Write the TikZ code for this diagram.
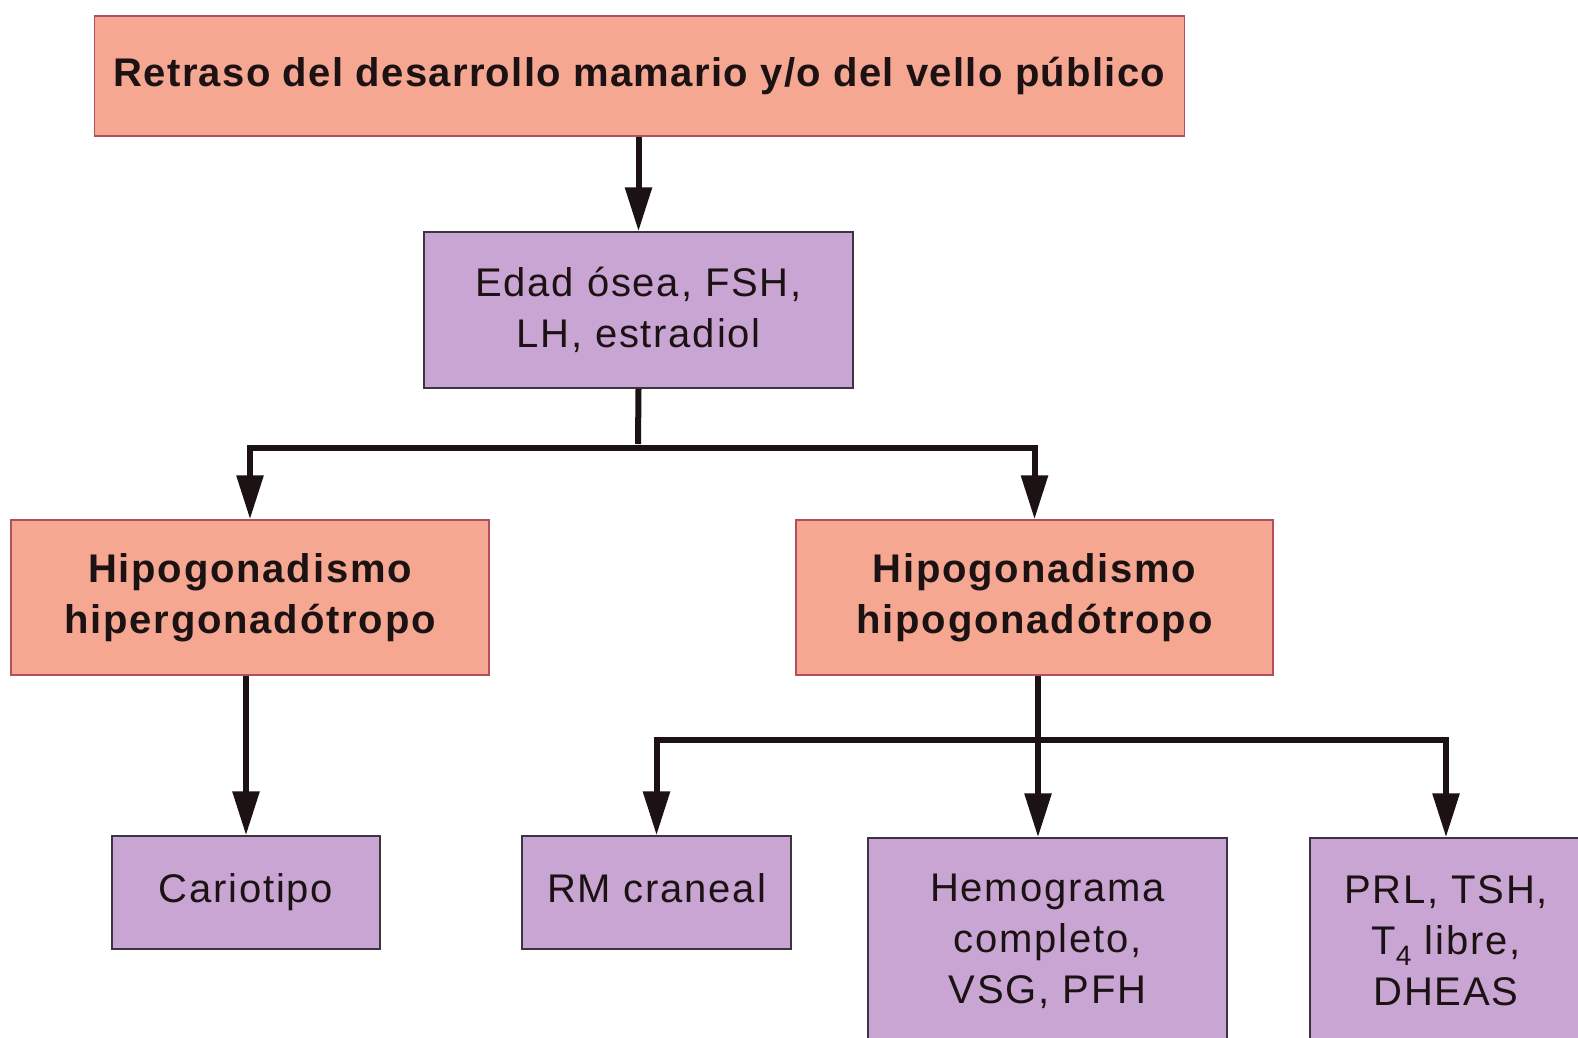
\documentclass[tikz,border=0pt]{standalone}
\usepackage{fontspec}
\setmainfont{Liberation Sans}[LetterSpace=4.5]
\usetikzlibrary{arrows.meta}
\definecolor{salmon}{HTML}{F5A792}
\definecolor{salmonborder}{HTML}{B0505C}
\definecolor{lilac}{HTML}{C9A5D4}
\definecolor{lilacborder}{HTML}{3C3440}
\definecolor{ink}{HTML}{1C1214}
\begin{document}
\begin{tikzpicture}[x=1pt,y=-1pt,
  base/.style={rectangle, inner sep=0pt, align=center, text=ink,
    font=\fontsize{40}{51}\selectfont, line width=1.5pt},
  oneline/.style={text height=29pt, text depth=9pt},
  redbox/.style={base, fill=salmon, draw=salmonborder, font=\fontsize{40}{51}\selectfont\bfseries},
  purbox/.style={base, fill=lilac, draw=lilacborder},
  conn/.style={line width=6pt, draw=ink},
  arr/.style={conn, -{Triangle[length=44pt,width=26pt]}}]
\useasboundingbox (0,0) rectangle (1578,1037);
\fill[white] (0,0) rectangle (1578,1037);
\node[redbox, oneline, minimum width=1090pt, minimum height=120pt, font=\fontsize{40}{51}\selectfont\bfseries\addfontfeature{LetterSpace=3.3}] (top) at (639.5,76) {Retraso del desarrollo mamario y/o del vello público};
\node[purbox, minimum width=429pt, minimum height=156pt] (edad) at (638.5,310) {Edad ósea, FSH,\\LH, estradiol};
\node[redbox, minimum width=478pt, minimum height=155pt] (hiper) at (250,597.5) {Hipogonadismo\\hipergonadótropo};
\node[redbox, minimum width=477pt, minimum height=155pt] (hipo) at (1034.5,597.5) {Hipogonadismo\\hipogonadótropo};
\node[purbox, oneline, minimum width=268pt, minimum height=113pt] (cario) at (246,892.5) {Cariotipo};
\node[purbox, oneline, minimum width=269pt, minimum height=113pt] (rm) at (656.5,892.5) {RM craneal};
\node[purbox, minimum width=359pt, minimum height=206pt] (hemo) at (1047.5,941) {Hemograma\\completo,\\VSG, PFH};
\node[purbox, minimum width=272pt, minimum height=206pt] (prl) at (1446,941) {PRL, TSH,\\T\textsubscript{4} libre,\\DHEAS};
\coordinate (j1) at (638,448);
\coordinate (j2) at (1038,740);
\draw[arr] (top.south -| edad) -- (edad.north);
\draw[conn] (edad.south) -- ([yshift=4pt]j1);
\draw[arr] (j1) -| (hiper.north);
\draw[arr] (j1) -| (hipo.north);
\draw[arr] (hiper.south -| cario) -- (cario.north);
\draw[conn] (hipo.south -| j2) -- (j2);
\draw[arr] (j2) -| (rm.north);
\draw[arr] (j2) -| (prl.north);
\draw[arr] (j2) -- (hemo.north -| j2);
\end{tikzpicture}
\end{document}
